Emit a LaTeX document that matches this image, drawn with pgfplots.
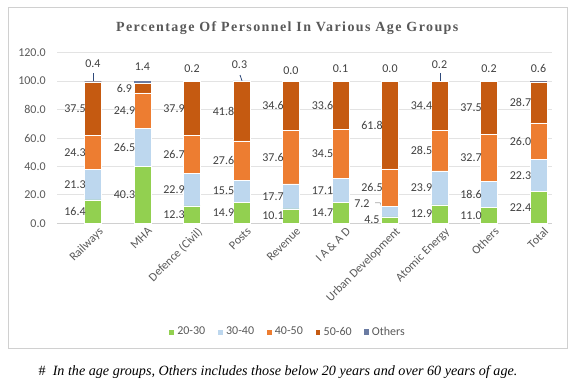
\documentclass[border=0pt]{standalone}
\usepackage{pgfplots}
\pgfplotsset{compat=1.18}
\usepackage{pgfplotstable}
\usepackage{fontspec}
\setmainfont{Carlito}
\newfontfamily\titlefont[LetterSpace=10]{Liberation Serif}
\newfontfamily\notefont{Liberation Serif}
\definecolor{cA}{HTML}{92D050}
\definecolor{cB}{HTML}{BDD7EE}
\definecolor{cC}{HTML}{ED7D31}
\definecolor{cD}{HTML}{C55A11}
\definecolor{cE}{HTML}{6A7BA2}
\definecolor{txt}{HTML}{595959}
\definecolor{lab}{HTML}{404040}
\definecolor{gridc}{HTML}{E3E3E3}
\definecolor{basec}{HTML}{D0D0D0}
\definecolor{leader}{HTML}{2F4A7A}
\newcommand\lblfont{\fontsize{9}{10}\selectfont}

% category index, percentage per age group
\pgfplotstableread{
x A B C D E
0 16.4 21.3 24.3 37.5 0.4
1 40.3 26.5 24.9 6.9 1.4
2 12.3 22.9 26.7 37.9 0.2
3 14.9 15.5 27.6 41.8 0.3
4 10.1 17.7 37.6 34.6 0.0
5 14.7 17.1 34.5 33.6 0.1
6 4.5 7.2 26.5 61.8 0.0
7 12.9 23.9 28.5 34.4 0.2
8 11.0 18.6 32.7 37.5 0.2
9 22.4 22.3 26.0 28.7 0.6
}\data

% data label positions (x, y in axis units) and texts
\pgfplotstableread{
x y lab
-0.364 8.2 16.4
-0.364 27.05 21.3
-0.364 49.85 24.3
-0.364 80.75 37.5
0 112.0 0.4
0.636 20.15 40.3
0.636 53.55 26.5
0.636 79.25 24.9
0.636 95.15 6.9
1 109.9 1.4
1.636 6.15 12.3
1.636 23.75 22.9
1.636 48.55 26.7
1.636 80.85 37.9
2 108.5 0.2
2.636 7.45 14.9
2.636 22.65 15.5
2.636 44.2 27.6
2.636 78.9 41.8
2.96 111.3 0.3
3.636 5.05 10.1
3.636 18.95 17.7
3.636 46.6 37.6
3.636 82.7 34.6
4 107.7 0.0
4.636 7.35 14.7
4.636 23.25 17.1
4.636 49.05 34.5
4.636 83.1 33.6
5 108.5 0.1
5.636 2.25 4.5
5.434 14.1 7.2
5.636 24.95 26.5
5.636 69.1 61.8
6 108.5 0.0
6.636 6.45 12.9
6.636 24.85 23.9
6.636 51.05 28.5
6.636 82.5 34.4
7 111.3 0.2
7.636 5.5 11.0
7.636 20.3 18.6
7.636 45.95 32.7
7.636 81.05 37.5
8 108.5 0.2
8.636 11.2 22.4
8.636 33.55 22.3
8.636 57.7 26.0
8.636 85.05 28.7
9 109.2 0.6
}\labels

\pgfplotsset{
  sqleg/.style={legend image code/.code={\fill[##1] (0pt,-2.1pt) rectangle (4.2pt,2.1pt);}},
  common/.style={
    at={(42.75pt,-167.475pt)}, anchor=south west,
    scale only axis,
    x=37.125pt, y=1.06625pt,
    xmin=-0.727, xmax=9.273, ymin=0, ymax=120,
  },
}

\begin{document}
\begin{tikzpicture}
\useasboundingbox (0,0) rectangle (430.5pt,-285.75pt);
\draw[color=basec, line width=0.75pt] (6pt,-5.8pt) rectangle (425.25pt,-261pt);
\node[font=\titlefont\bfseries\fontsize{10.5}{12}\selectfont, text=txt] at (215.4pt,-20.8pt)
  {Percentage Of Personnel In Various Age Groups};
\node[font=\notefont\fontsize{10.6}{12}\selectfont] at (208.5pt,-278.8pt)
  {\#\ \ \textit{In the age groups, Others includes those below 20 years and over 60 years of age.}};
\begin{axis}[
  common,
  ybar stacked, bar width=12.5pt,
  axis x line*=bottom, axis y line*=left,
  x axis line style={draw=basec, line width=0.6pt},
  y axis line style={draw=none},
  major tick length=0pt,
  ymajorgrids, grid style={draw=gridc, line width=0.6pt},
  ytick={0,20,...,120},
  yticklabel={\pgfmathprintnumber[fixed,fixed zerofill,precision=1,assume math mode=true]{\tick}},
  yticklabel style={font=\lblfont, text=txt, xshift=-5pt},
  xtick={0,...,9},
  xticklabels={Railways, MHA, Defence (Civil), Posts, Revenue, I A \& A D, Urban Development, Atomic Energy, Others, Total},
  xticklabel style={rotate=45, anchor=north east, font=\lblfont, text=txt, inner sep=1pt, yshift=-3pt, xshift=2pt},
  legend columns=5,
  legend style={at={(0.4667,-0.637)}, anchor=center, draw=none, fill=none, font=\lblfont, text=txt,
    /tikz/every even column/.append style={column sep=7pt}},
  clip=false,
]
\addplot[fill=cA, draw=white, line width=0.4pt, sqleg] table[x=x,y=A]{\data};
\addlegendentry{20-30}
\addplot[fill=cB, draw=white, line width=0.4pt, sqleg] table[x=x,y=B]{\data};
\addlegendentry{30-40}
\addplot[fill=cC, draw=white, line width=0.4pt, sqleg] table[x=x,y=C]{\data};
\addlegendentry{40-50}
\addplot[fill=cD, draw=white, line width=0.4pt, sqleg] table[x=x,y=D]{\data};
\addlegendentry{50-60}
\addplot[fill=cE, draw=none, sqleg] table[x=x,y=E]{\data};
\addlegendentry{Others}
\draw[leader, line width=0.6pt] (axis cs:0,100.3) -- (axis cs:0,105.5);
\draw[leader, line width=0.6pt] (axis cs:3.01,100.2) -- (axis cs:2.97,104.3);
\draw[leader, line width=0.6pt] (axis cs:7.01,100.2) -- (axis cs:7.01,105.5);
\draw[color=black!35, line width=0.5pt] (axis cs:5.70,14.49) -- (axis cs:5.80,14.49) -- (axis cs:5.845,10.6);
\end{axis}
\begin{axis}[
  common, hide axis, clip=false,
]
\addplot[draw=none, mark=none, nodes near coords, point meta=explicit symbolic,
  every node near coord/.style={anchor=center, font=\lblfont, text=lab, inner sep=0pt}]
  table[x=x,y=y,meta=lab]{\labels};
\end{axis}
\end{tikzpicture}
\end{document}
